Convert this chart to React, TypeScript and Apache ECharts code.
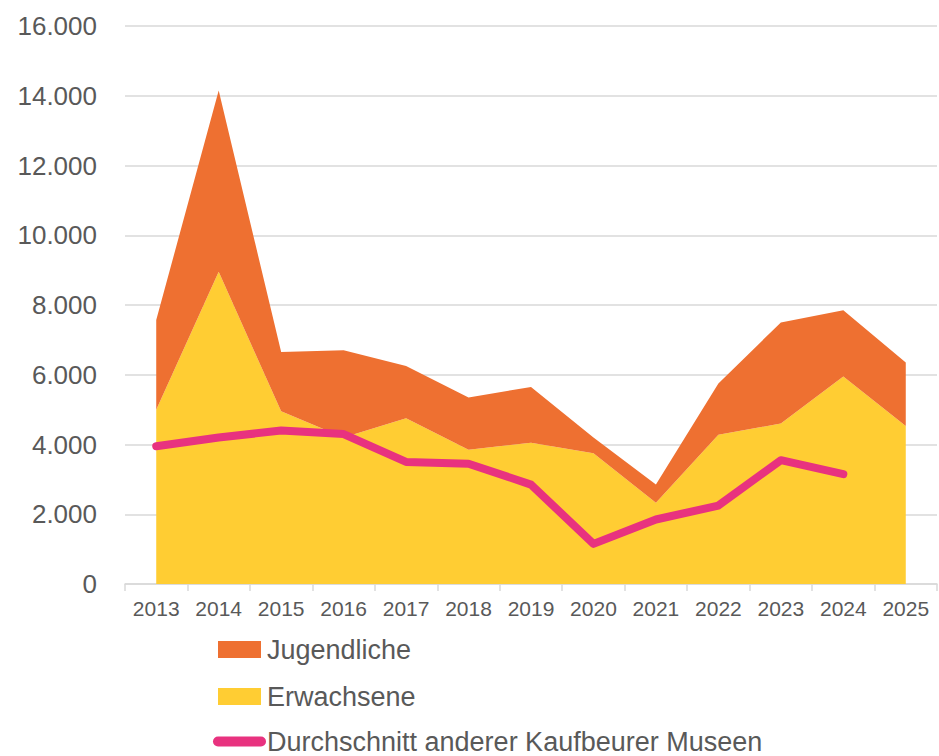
import React, { useEffect, useRef } from "react";
import * as echarts from "echarts";

const years = ["2013", "2014", "2015", "2016", "2017", "2018", "2019", "2020", "2021", "2022", "2023", "2024", "2025"];
const erwachsene = [5000, 8950, 4950, 4200, 4750, 3850, 4050, 3750, 2330, 4280, 4600, 5950, 4530];
const jugendliche = [2570, 5200, 1700, 2500, 1500, 1500, 1600, 450, 520, 1470, 2900, 1900, 1820];
const durchschnitt = [3950, 4200, 4400, 4300, 3500, 3450, 2850, 1150, 1850, 2250, 3550, 3150, null];
const yTicks = [0, 2000, 4000, 6000, 8000, 10000, 12000, 14000, 16000];

const fmt = (v: number) => String(v).replace(/\B(?=(\d{3})+(?!\d))/g, ".");

export default function App() {
  const ref = useRef<HTMLDivElement>(null);
  useEffect(() => {
    if (!ref.current) return;
    const chart = echarts.init(ref.current, null, { renderer: "svg" });
    const font = "'Liberation Sans', Arial, sans-serif";
    const legendBase = {
      orient: "vertical",
      left: 218,
      padding: 0,
      itemWidth: 43,
      itemHeight: 17,
      selectedMode: false,
      textStyle: { fontSize: 27, color: "#595959", fontFamily: font, padding: [0, 0, 0, 1] },
    };
    chart.setOption({
      animation: false,
      textStyle: { fontFamily: font, color: "#595959" },
      grid: { left: 125, right: 2, top: 26, bottom: 172, containLabel: false },
      legend: [
        { ...legendBase, top: 636, data: [{ name: "Jugendliche", icon: "rect" }] },
        { ...legendBase, top: 683, data: [{ name: "Erwachsene", icon: "rect" }] },
        {
          ...legendBase,
          left: 213,
          top: 728,
          data: [
            {
              name: "Durchschnitt anderer Kaufbeurer Museen",
              itemStyle: { opacity: 0 },
              lineStyle: { width: 10, cap: "round", color: "#E8327F" },
            },
          ],
        },
      ],
      xAxis: {
        type: "category",
        data: years,
        boundaryGap: true,
        axisLine: { lineStyle: { color: "#d9d9d9", width: 1.5 } },
        axisTick: { show: true, length: 7, lineStyle: { color: "#d9d9d9", width: 1.5 } },
        axisLabel: { fontSize: 21, color: "#595959", margin: 14, fontFamily: font },
      },
      yAxis: {
        type: "value",
        min: yTicks[0],
        max: yTicks[yTicks.length - 1],
        interval: 2000,
        axisLine: { show: false },
        axisTick: { show: false },
        splitLine: { lineStyle: { color: "#d9d9d9", width: 1.5 } },
        axisLabel: { fontSize: 26, color: "#595959", margin: 28, fontFamily: font, formatter: (v: number) => fmt(v) },
      },
      series: [
        {
          name: "Erwachsene",
          type: "line",
          stack: "total",
          data: erwachsene,
          symbol: "none",
          lineStyle: { width: 0 },
          itemStyle: { color: "#FFCD33" },
          areaStyle: { color: "#FFCD33", opacity: 1 },
          z: 1,
        },
        {
          name: "Jugendliche",
          type: "line",
          stack: "total",
          data: jugendliche,
          symbol: "none",
          lineStyle: { width: 0 },
          itemStyle: { color: "#EE7031" },
          areaStyle: { color: "#EE7031", opacity: 1 },
          z: 1,
        },
        {
          name: "Durchschnitt anderer Kaufbeurer Museen",
          type: "line",
          data: durchschnitt,
          symbol: "none",
          connectNulls: false,
          itemStyle: { color: "#E8327F" },
          lineStyle: { color: "#E8327F", width: 8, cap: "round", join: "round" },
          z: 3,
        },
      ],
    });
    return () => chart.dispose();
  }, []);
  return <div ref={ref} style={{ width: 939, height: 756, position: "absolute", left: 0, top: 0 }} />;
}
